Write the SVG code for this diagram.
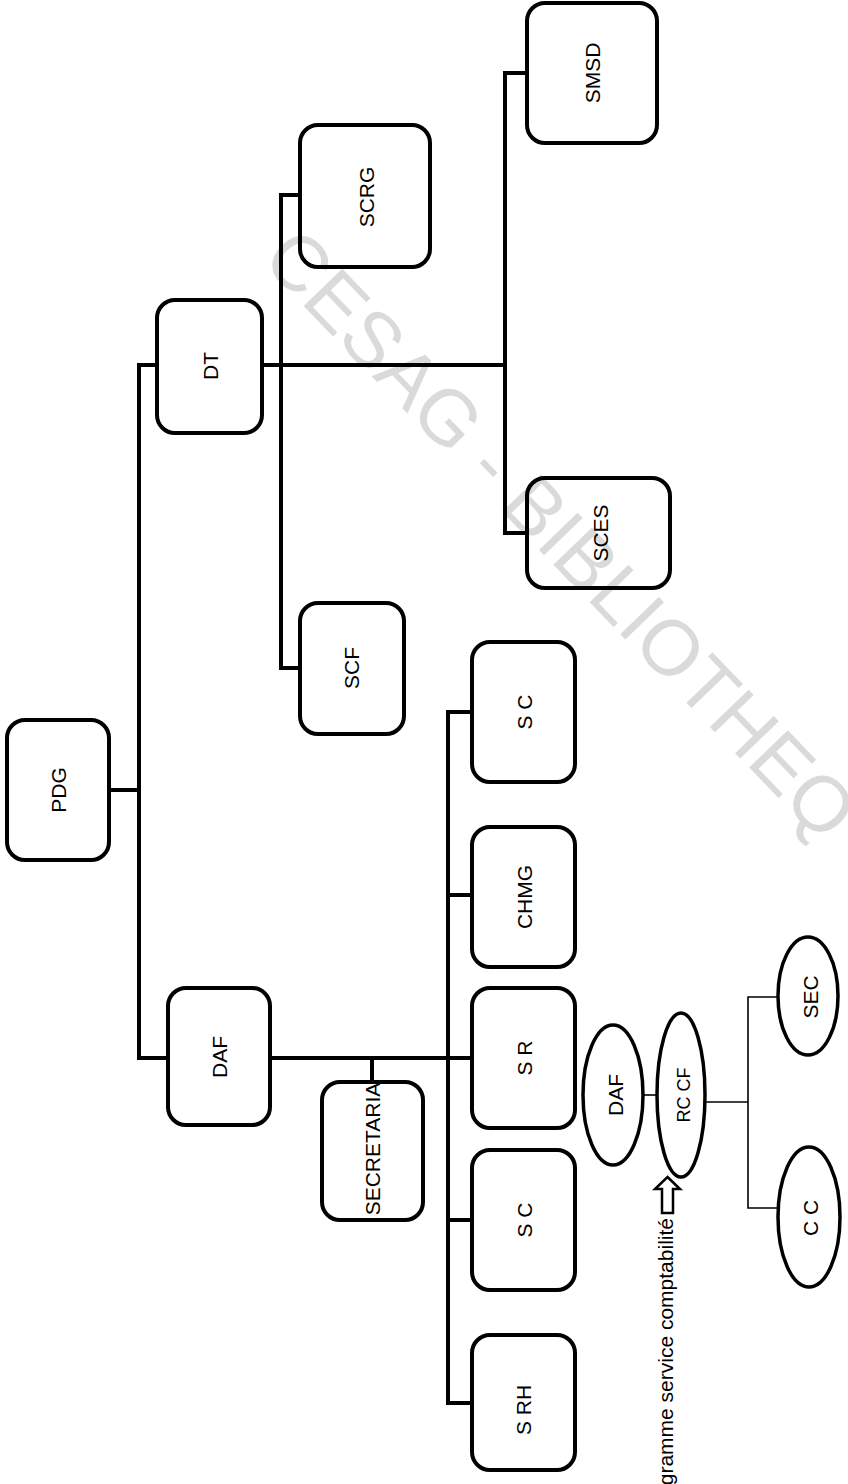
<svg xmlns="http://www.w3.org/2000/svg" width="848" height="1484" viewBox="0 0 848 1484">
<style>
.bg{fill:#ffffff}
.box{fill:none;stroke:#000;stroke-width:4}
.ov{fill:none;stroke:#000;stroke-width:3.5}
.c{fill:none;stroke:#000;stroke-width:4}
.t{fill:none;stroke:#000;stroke-width:1.6}
.lbl{font-family:"Liberation Sans",Arial,sans-serif;font-size:21px;fill:#000;text-anchor:middle}
.wm{font-family:"Liberation Sans",Arial,sans-serif;font-size:78px;fill:#dadada}
.cap{font-family:"Liberation Sans",Arial,sans-serif;font-size:21px;fill:#000;text-anchor:end}
</style>
<rect class="bg" x="0" y="0" width="848" height="1484"/>
<g id="watermark">
<text class="wm" transform="translate(260,261) rotate(46)">CESAG - BIBLIOTHEQ</text>
</g>
<g id="connectors">
<path class="c" d="M109,790 H139"/>
<path class="c" d="M157,365 H139 V1058 H168"/>
<path class="c" d="M262,365 H505"/>
<path class="c" d="M300,195 H281 V668 H300"/>
<path class="c" d="M527,73 H505 V533 H527"/>
<path class="c" d="M270,1058 H472"/>
<path class="c" d="M372,1058 V1082"/>
<path class="c" d="M472,712 H448 V1403 H472"/>
<path class="c" d="M448,895 H472"/>
<path class="c" d="M448,1220 H472"/>
<path class="t" d="M643,1095 H658"/>
<path class="t" d="M705,1102 H748"/>
<path class="t" d="M778,997 H748 V1208 H778"/>
</g>
<g id="PDG"><rect class="box" x="7" y="720" width="102" height="140" rx="18"/><text class="lbl" transform="translate(66,790) rotate(-90)">PDG</text></g>
<g id="DT"><rect class="box" x="157" y="300" width="105" height="133" rx="18"/><text class="lbl" transform="translate(218,366) rotate(-90)">DT</text></g>
<g id="SCRG"><rect class="box" x="300" y="125" width="130" height="142" rx="18"/><text class="lbl" transform="translate(374,197) rotate(-90)">SCRG</text></g>
<g id="SMSD"><rect class="box" x="527" y="3" width="130" height="140" rx="18"/><text class="lbl" transform="translate(600,73) rotate(-90)">SMSD</text></g>
<g id="SCES"><rect class="box" x="527" y="478" width="143" height="110" rx="18"/><text class="lbl" transform="translate(608,533) rotate(-90)">SCES</text></g>
<g id="SCF"><rect class="box" x="300" y="603" width="104" height="131" rx="18"/><text class="lbl" transform="translate(359,668) rotate(-90)">SCF</text></g>
<g id="DAF"><rect class="box" x="168" y="988" width="102" height="137" rx="18"/><text class="lbl" transform="translate(227,1057) rotate(-90)">DAF</text></g>
<g id="SECRETARIA"><rect class="box" x="322" y="1082" width="101" height="138" rx="18"/><text class="lbl" transform="translate(380,1149) rotate(-90)">SECRETARIA</text></g>
<g id="SC1"><rect class="box" x="472" y="642" width="103" height="140" rx="18"/><text class="lbl" transform="translate(532,712) rotate(-90)">S C</text></g>
<g id="CHMG"><rect class="box" x="472" y="827" width="103" height="140" rx="18"/><text class="lbl" transform="translate(532,897) rotate(-90)">CHMG</text></g>
<g id="SR"><rect class="box" x="472" y="988" width="103" height="140" rx="18"/><text class="lbl" transform="translate(532,1058) rotate(-90)">S R</text></g>
<g id="SC2"><rect class="box" x="472" y="1150" width="103" height="140" rx="18"/><text class="lbl" transform="translate(532,1220) rotate(-90)">S C</text></g>
<g id="SRH"><rect class="box" x="472" y="1335" width="103" height="135" rx="18"/><text class="lbl" transform="translate(531,1410) rotate(-90)">S RH</text></g>
<g id="DAF2"><ellipse class="ov" cx="613" cy="1095" rx="30" ry="70"/><text class="lbl" transform="translate(623,1095) rotate(-90)">DAF</text></g>
<g id="RCCF"><ellipse class="ov" cx="681" cy="1095" rx="24" ry="82"/><text class="lbl" style="font-size:18px" transform="translate(690,1095) rotate(-90)">RC CF</text></g>
<g id="SEC"><ellipse class="ov" cx="808" cy="996" rx="30" ry="59"/><text class="lbl" transform="translate(818,997) rotate(-90)">SEC</text></g>
<g id="CC"><ellipse class="ov" cx="809" cy="1217" rx="31" ry="70"/><text class="lbl" transform="translate(818,1218) rotate(-90)">C C</text></g>
<g id="caption">
<polygon points="667.5,1177 680,1189 673,1189 673,1213 662,1213 662,1189 655,1189" fill="#fff" stroke="#000" stroke-width="2.5"/>
<text class="cap" transform="translate(673,1218) rotate(-90)">gramme service comptabilité</text>
</g>
</svg>
